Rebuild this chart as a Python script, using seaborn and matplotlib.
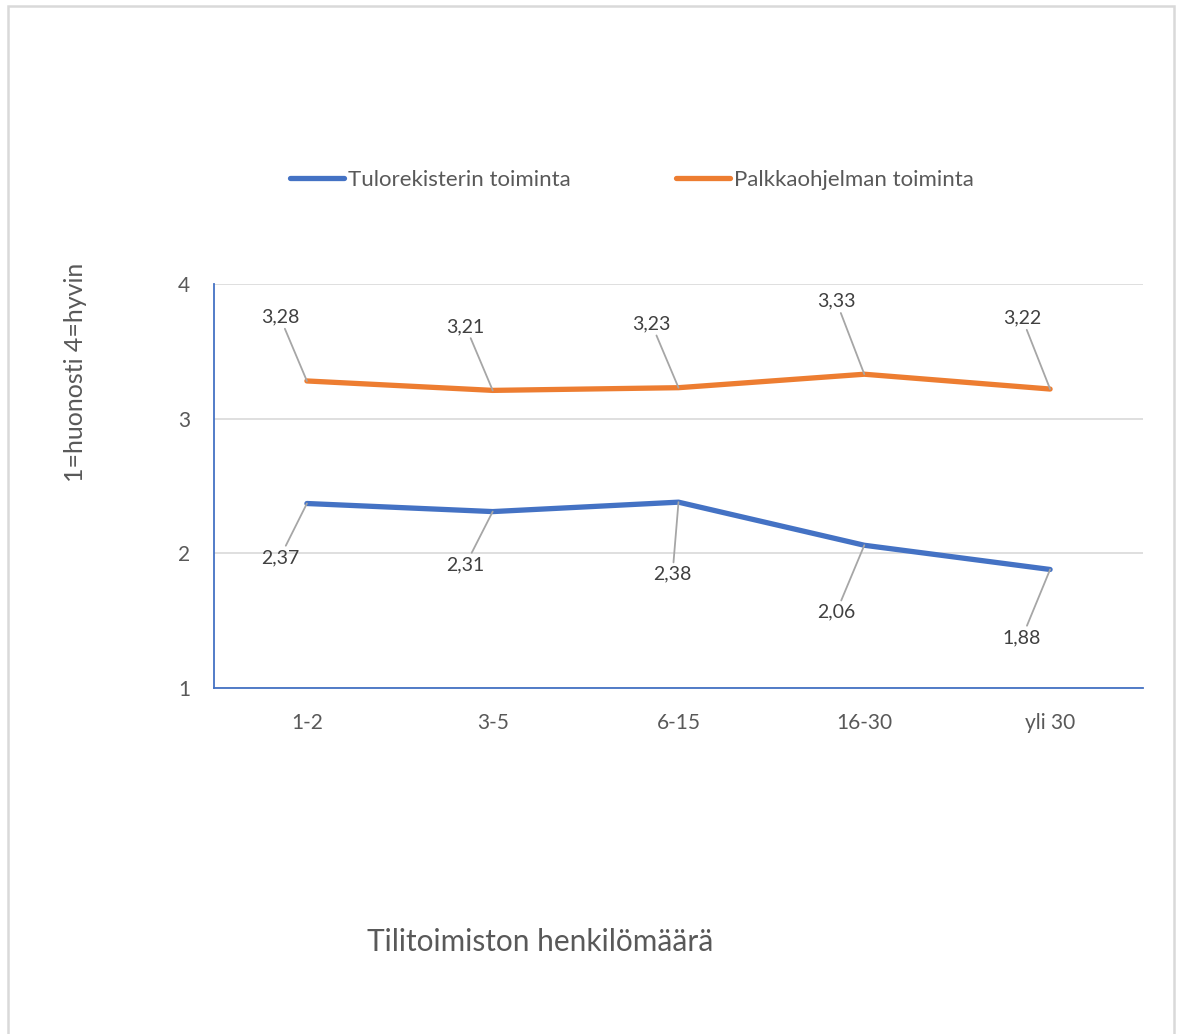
import matplotlib
matplotlib.use("Agg")
import matplotlib.pyplot as plt
import seaborn as sns
import pandas as pd
from matplotlib.patches import Rectangle
from matplotlib.lines import Line2D

# ---- data ----
categories = ["1-2", "3-5", "6-15", "16-30", "yli 30"]
series_names = ["Tulorekisterin toiminta", "Palkkaohjelman toiminta"]
tulorekisteri = [2.37, 2.31, 2.38, 2.06, 1.88]
palkkaohjelma = [3.28, 3.21, 3.23, 3.33, 3.22]
y_ticks = [1, 2, 3, 4]
x_title = "Tilitoimiston henkilömäärä"
y_title = "1=huonosti 4=hyvin"

# ---- styles / label offsets (pixels) ----
colors = ["#4472C4", "#ED7D31"]
off_tulo = [(-27, -54), (-27, -53), (-6, -72), (-28, -67), (-28, -68)]
off_palkka = [(-27, 64), (-27, 64), (-27, 64), (-28, 73), (-28, 71)]

df = pd.DataFrame({
    "Kategoria": categories * 2,
    "Arvo": tulorekisteri + palkkaohjelma,
    "Sarja": [series_names[0]] * len(categories) + [series_names[1]] * len(categories),
})

sns.set_theme(style="white")
plt.rcParams["font.family"] = ["Lato", "DejaVu Sans"]
text_col = "#595959"

fig = plt.figure(figsize=(11.81, 10.34), dpi=100)
ax = fig.add_axes([214 / 1181, 346 / 1034, 929 / 1181, 404 / 1034])

sns.lineplot(data=df, x="Kategoria", y="Arvo", hue="Sarja", palette=colors,
             linewidth=3.8, sort=False, ax=ax, legend=False,
             solid_capstyle="round")

ax.set_xlim(-0.5, len(categories) - 0.5)
ax.set_ylim(1, 4)
ax.set_yticks(y_ticks)
ax.set_yticklabels([str(t) for t in y_ticks])
ax.grid(axis="y", color="#D9D9D9", linewidth=1.2)
ax.grid(axis="x", visible=False)
ax.set_axisbelow(True)
for s in ["top", "right"]:
    ax.spines[s].set_visible(False)
for s in ["left", "bottom"]:
    ax.spines[s].set_visible(True)
    ax.spines[s].set_color("#4472C4")
    ax.spines[s].set_linewidth(1.3)
ax.tick_params(axis="both", length=0, labelsize=15, colors=text_col)
ax.tick_params(axis="y", pad=17)
ax.tick_params(axis="x", pad=18)
ax.set_xlabel("")
ax.set_ylabel("")

def fmt(v):
    return f"{v:.2f}".replace(".", ",")

for vals, offs in [(tulorekisteri, off_tulo), (palkkaohjelma, off_palkka)]:
    for i, (v, o) in enumerate(zip(vals, offs)):
        ax.annotate(fmt(v), xy=(i, v), xytext=o, textcoords="offset pixels",
                    ha="center", va="center", fontsize=14, color="#404040",
                    arrowprops=dict(arrowstyle="-", color="#A6A6A6", lw=1.3,
                                    shrinkA=0, shrinkB=0))

# axis titles
fig.text(540 / 1181, 1 - 942 / 1034, x_title, ha="center", va="center",
         fontsize=21.5, color=text_col)
fig.text(76 / 1181, 1 - 372 / 1034, y_title, ha="center", va="center",
         rotation=90, fontsize=18, color=text_col)

# legend
handles = [Line2D([], [], color=c, lw=3.8, solid_capstyle="round") for c in colors]
fig.legend(handles, series_names, loc="center", ncol=2,
           bbox_to_anchor=(632 / 1181, 1 - 180 / 1034), frameon=False,
           fontsize=16, handlelength=2.45, handletextpad=0.18,
           columnspacing=4.7, labelcolor=text_col, borderpad=0)

# chart border
fig.patches.append(Rectangle((8 / 1181, -0.05), (1174 - 8) / 1181, 1.05 - 6 / 1034,
                             transform=fig.transFigure, fill=False,
                             edgecolor="#D9D9D9", linewidth=1.8))

fig.savefig("out.png", dpi=100)
